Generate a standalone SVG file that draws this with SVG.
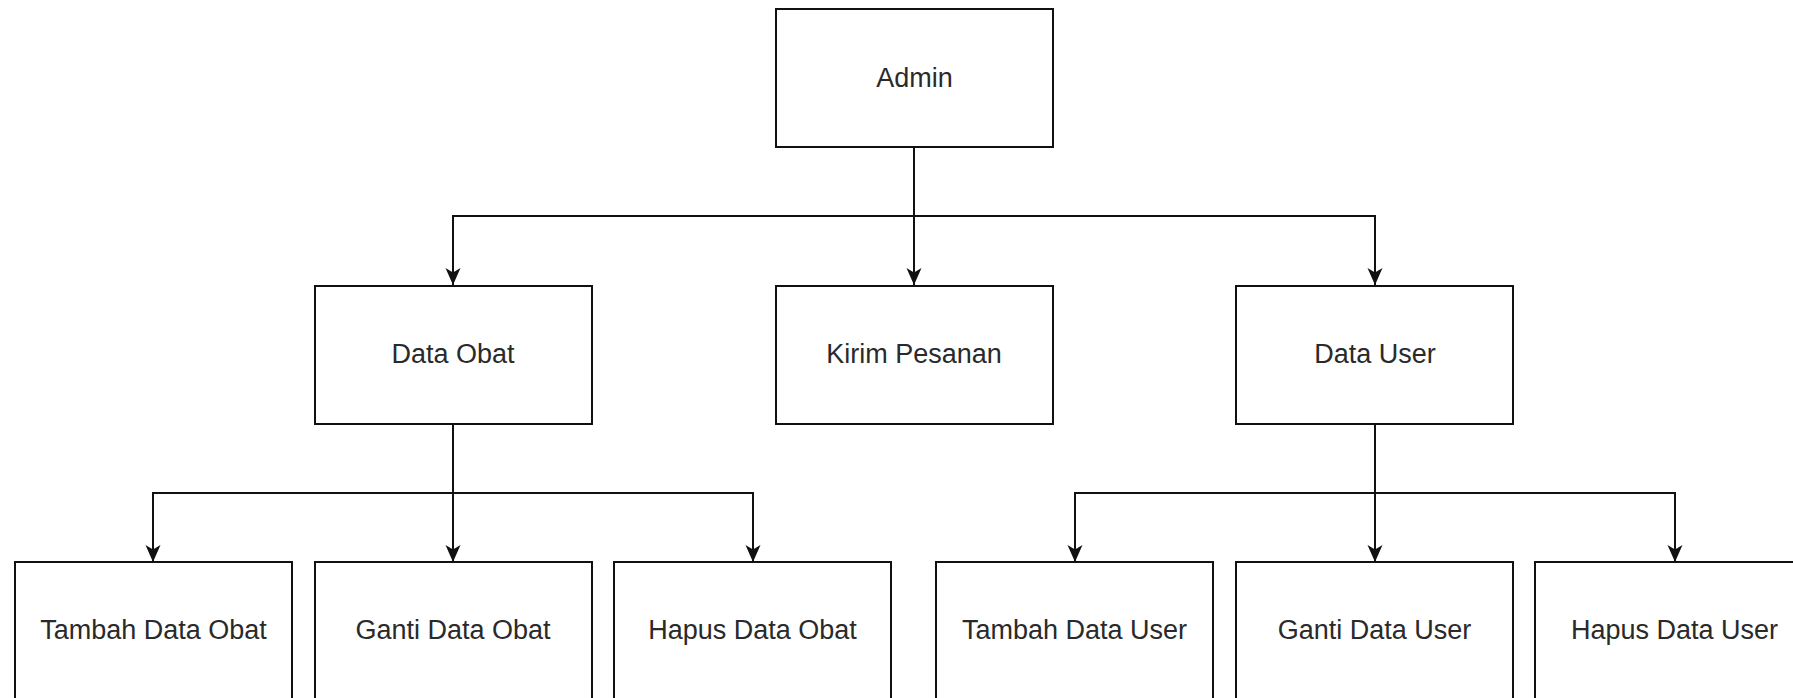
<svg xmlns="http://www.w3.org/2000/svg" width="1793" height="698" viewBox="0 0 1793 698">
<style>
.box{fill:#ffffff;stroke:#111;stroke-width:2}
.lbl{font-family:"Liberation Sans",Arial,sans-serif;font-size:27px;fill:#2a2a2a;text-anchor:middle}
.edge{fill:none;stroke:#111;stroke-width:2;marker-end:url(#arr)}
</style>
<defs>
<marker id="arr" viewBox="0 0 17 16" refX="17" refY="8" markerWidth="17" markerHeight="16" markerUnits="userSpaceOnUse" orient="auto">
<path d="M0,0.5 L17,8 L0,15.5 L4.5,8 Z" fill="#111"/>
</marker>
</defs>
<rect width="1793" height="698" fill="#ffffff"/>
<g id="connectors">
<path class="edge" d="M914,147 V216 H453 V285"/>
<path class="edge" d="M914,147 V285"/>
<path class="edge" d="M914,147 V216 H1375 V285"/>
<path class="edge" d="M453,424 V493 H153 V562"/>
<path class="edge" d="M453,424 V562"/>
<path class="edge" d="M453,424 V493 H753 V562"/>
<path class="edge" d="M1375,424 V493 H1075 V562"/>
<path class="edge" d="M1375,424 V562"/>
<path class="edge" d="M1375,424 V493 H1675 V562"/>
</g>
<g id="admin"><rect class="box" x="776" y="9" width="277" height="138"/><text class="lbl" x="914.5" y="87">Admin</text></g>
<g id="data-obat"><rect class="box" x="315" y="286" width="277" height="138"/><text class="lbl" x="453" y="363">Data Obat</text></g>
<g id="kirim-pesanan"><rect class="box" x="776" y="286" width="277" height="138"/><text class="lbl" x="914" y="363">Kirim Pesanan</text></g>
<g id="data-user"><rect class="box" x="1236" y="286" width="277" height="138"/><text class="lbl" x="1375" y="363">Data User</text></g>
<g id="tambah-data-obat"><rect class="box" x="15" y="562" width="277" height="138"/><text class="lbl" x="153.5" y="639">Tambah Data Obat</text></g>
<g id="ganti-data-obat"><rect class="box" x="315" y="562" width="277" height="138"/><text class="lbl" x="453" y="639">Ganti Data Obat</text></g>
<g id="hapus-data-obat"><rect class="box" x="614" y="562" width="277" height="138"/><text class="lbl" x="752.5" y="639">Hapus Data Obat</text></g>
<g id="tambah-data-user"><rect class="box" x="936" y="562" width="277" height="138"/><text class="lbl" x="1074.5" y="639">Tambah Data User</text></g>
<g id="ganti-data-user"><rect class="box" x="1236" y="562" width="277" height="138"/><text class="lbl" x="1374.5" y="639">Ganti Data User</text></g>
<g id="hapus-data-user"><rect class="box" x="1535" y="562" width="277" height="138"/><text class="lbl" x="1674.5" y="639">Hapus Data User</text></g>
</svg>
